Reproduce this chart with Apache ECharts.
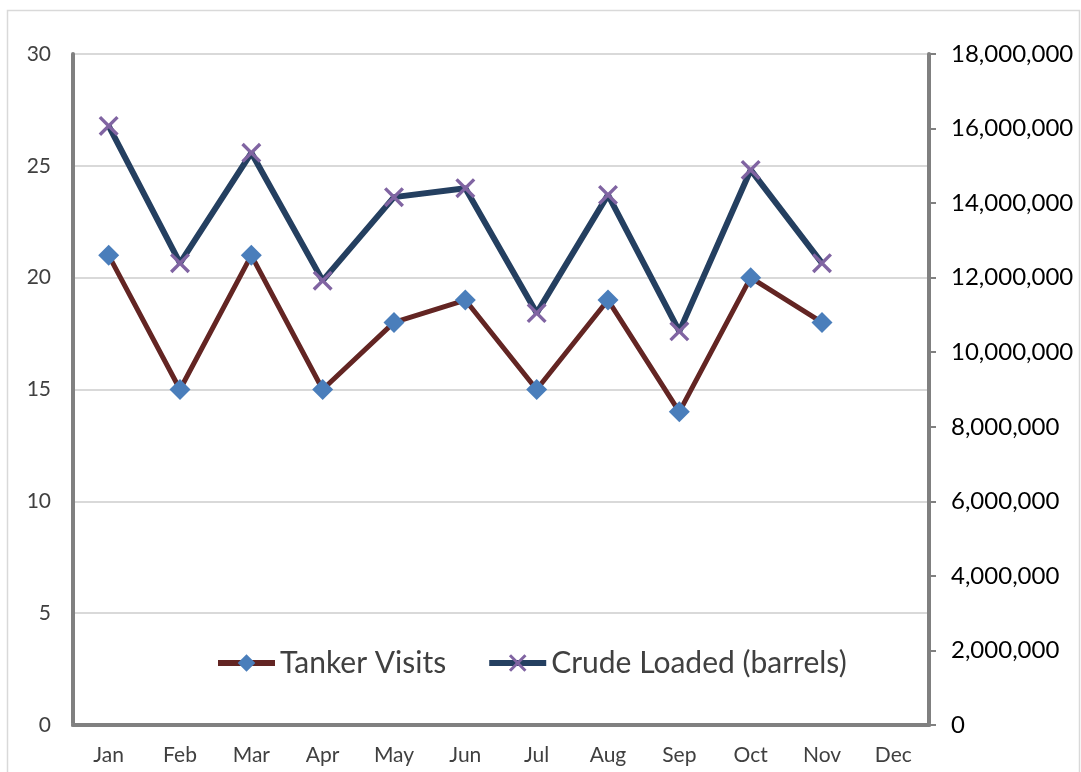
<!DOCTYPE html>
<html>
<head>
<meta charset="utf-8">
<script src="https://cdn.jsdelivr.net/npm/echarts@6/dist/echarts.min.js"></script>
<style>
html,body{margin:0;padding:0;background:#fff;}
#c{width:1081px;height:772px;}
</style>
</head>
<body>
<div id="c"></div>
<script>
const months = ['Jan','Feb','Mar','Apr','May','Jun','Jul','Aug','Sep','Oct','Nov','Dec'];
const tankerVisits = [21,15,21,15,18,19,15,19,14,20,18,null];
const crudeLoaded = [16070000,12390000,15350000,11920000,14160000,14400000,11050000,14220000,10560000,14890000,12390000,null];
const seriesNames = ['Tanker Visits','Crude Loaded (barrels)'];

const FONT = 'Lato';
const xSym = 'path://M0,1.2L1.2,0L10,8.8L8.8,10Z M8.8,0L10,1.2L1.2,10L0,8.8Z';
const AXIS_GRAY = '#808080';

const chart = echarts.init(document.getElementById('c'), null, {renderer:'canvas'});
chart.setOption({
  animation:false,
  backgroundColor:'#fff',
  graphic:[{type:'rect',shape:{x:7.5,y:10.5,width:1072,height:780},style:{fill:'none',stroke:'#d9d9d9',lineWidth:1.5},silent:true,z:-1}],
  grid:{left:73,right:152,top:54,bottom:47,show:false},
  legend:{
    data:seriesNames,
    left:210, top:643,
    itemWidth:57, itemHeight:22, itemGap:40,
    textStyle:{fontFamily:FONT,fontSize:30,color:'#404040'},
    lineStyle:{width:6}
  },
  xAxis:[{
    type:'category', data:months, boundaryGap:true, position:'bottom',
    axisLine:{show:true,lineStyle:{color:'#a6a6a6',width:4}}, axisTick:{show:false},
    axisLabel:{fontFamily:FONT,fontSize:21,color:'#404040',margin:20}
  },{
    type:'category', data:months, boundaryGap:true, position:'top',
    axisLine:{show:true,lineStyle:{color:AXIS_GRAY,width:4}}, axisTick:{show:false},
    axisLabel:{show:false}
  }],
  yAxis:[
    {type:'value',min:0,max:30,interval:5,position:'left',
     axisLine:{show:true,lineStyle:{color:AXIS_GRAY,width:4}},axisTick:{show:false},
     splitLine:{show:true,lineStyle:{color:'#d9d9d9',width:2}},
     axisLabel:{fontFamily:FONT,fontSize:21,color:'#404040',margin:22}},
    {type:'value',min:0,max:18000000,interval:2000000,position:'right',
     axisLine:{show:true,lineStyle:{color:AXIS_GRAY,width:4}},
     axisTick:{show:true,length:7,inside:false,lineStyle:{color:AXIS_GRAY,width:2}},
     splitLine:{show:false},
     axisLabel:{fontFamily:FONT,fontSize:24,color:'#000',margin:22,
       formatter:v=>v.toLocaleString('en-US')}}
  ],
  series:[
    {name:seriesNames[0],type:'line',yAxisIndex:0,data:tankerVisits,
     symbol:'diamond',symbolSize:[21,21],showAllSymbol:true,
     lineStyle:{color:'#632523',width:5},
     itemStyle:{color:'#4a7ebb'},z:3},
    {name:seriesNames[1],type:'line',yAxisIndex:1,data:crudeLoaded,
     symbol:xSym,symbolSize:20,showAllSymbol:true,
     lineStyle:{color:'#243f60',width:6},
     itemStyle:{color:'#8064a2'},z:4}
  ]
});
</script>
</body>
</html>
